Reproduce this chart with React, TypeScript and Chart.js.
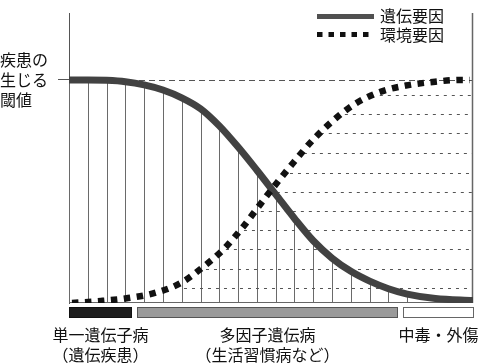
import React, { useEffect, useRef } from "react";
import { Chart, registerables } from "chart.js";

Chart.register(...registerables);

// ---- data (x in units of hatch spacing, y: 0 = baseline, 1 = disease threshold) ----
const geneticLabel = "遺伝要因";
const environmentLabel = "環境要因";
const thresholdLabel = ["疾患の", "生じる", "閾値"];
const thresholdValue = 1;

const geneticX = [0, 1, 2, 3, 4, 5, 6, 7, 8, 9, 10, 11, 12, 13, 14, 15, 16, 17, 18, 19.5, 21.5];
const geneticY = [1.0, 1.0, 0.998, 0.992, 0.978, 0.955, 0.92, 0.871, 0.794, 0.699, 0.595, 0.487, 0.379, 0.279, 0.201, 0.142, 0.098, 0.064, 0.04, 0.02, 0.011];
const hatchMaxX = 18;

const environmentX = [0.16, 1.7, 3.14, 4.57, 5.96, 7.13, 8.24, 9.26, 10.11, 11.06, 11.97, 12.98, 14.1, 15.21, 16.54, 17.93, 19.36, 20.85, 21.33];
const environmentY = [0, 0.009, 0.022, 0.045, 0.09, 0.161, 0.242, 0.341, 0.435, 0.538, 0.632, 0.731, 0.821, 0.892, 0.946, 0.975, 0.991, 1.0, 1.0];

const guideLevels = [0.067, 0.152, 0.242, 0.327, 0.413, 0.498, 0.583, 0.673, 0.762, 0.848, 0.933];
const guideStartX = [6.12, 7.29, 8.35, 9.31, 10.21, 11.06, 11.76, 12.5, 13.4, 14.68, 16.54];

const categoryLine1 = ["単一遺伝子病", "多因子遺伝病", "中毒・外傷"];
const categoryLine2 = ["（遺伝疾患）", "（生活習慣病など）", ""];
const categoryStart = [0, 3.62, 17.77];
const categoryEnd = [3.35, 17.5, 21.54];

const xMax = 21.5;
const yMax = 1.3;

// ---- styles ----
const FONT = "'Noto Sans CJK JP', 'Noto Sans CJK SC', sans-serif";
const geneticColor = "#424242";
const environmentColor = "#111111";
const categoryFill = ["#1e1e1e", "#9a9a9a", "#ffffff"];
const categoryStroke = ["#111111", "#555555", "#666666"];

const decorPlugin = {
  id: "decor",
  beforeDatasetsDraw(chart: any) {
    const { ctx, chartArea: a, scales } = chart;
    const xs = scales.x;
    const ys = scales.y;
    const base = Math.round(ys.getPixelForValue(0)) - 0.5;
    ctx.save();

    // hatch lines under genetic curve
    ctx.strokeStyle = "#6a6a6a";
    ctx.lineWidth = 1;
    ctx.setLineDash([]);
    geneticX.forEach((gx, i) => {
      if (gx > hatchMaxX) return;
      const px = Math.round(xs.getPixelForValue(gx)) + 0.5;
      ctx.beginPath();
      ctx.moveTo(px, base);
      ctx.lineTo(px, ys.getPixelForValue(geneticY[i]));
      ctx.stroke();
    });

    // threshold dashed line
    const ty = Math.round(ys.getPixelForValue(thresholdValue)) + 0.5;
    ctx.strokeStyle = "#555";
    ctx.setLineDash([6, 4]);
    ctx.beginPath();
    ctx.moveTo(a.left, ty);
    ctx.lineTo(a.right, ty);
    ctx.stroke();

    // environment guides
    ctx.setLineDash([3, 5]);
    guideLevels.forEach((lv, i) => {
      const py = Math.round(ys.getPixelForValue(lv)) + 0.5;
      ctx.beginPath();
      ctx.moveTo(xs.getPixelForValue(guideStartX[i]), py);
      ctx.lineTo(a.right, py);
      ctx.stroke();
    });
    ctx.setLineDash([]);

    // baseline
    ctx.strokeStyle = "#666";
    ctx.beginPath();
    ctx.moveTo(a.left, base);
    ctx.lineTo(a.right, base);
    ctx.stroke();

    // right border
    ctx.strokeStyle = "#666";
    ctx.lineWidth = 1.5;
    ctx.beginPath();
    ctx.moveTo(a.right - 0.5, a.top);
    ctx.lineTo(a.right - 0.5, base + 0.5);
    ctx.stroke();
    ctx.restore();
  },
  afterDraw(chart: any) {
    const { ctx, chartArea: a, scales } = chart;
    const xs = scales.x;
    const ys = scales.y;
    const base = ys.getPixelForValue(0);
    ctx.save();

    // category bars + labels
    ctx.font = `16px ${FONT}`;
    ctx.textAlign = "center";
    ctx.textBaseline = "middle";
    categoryLine1.forEach((t, i) => {
      const x0 = Math.round(xs.getPixelForValue(categoryStart[i]));
      const x1 = Math.round(xs.getPixelForValue(categoryEnd[i]));
      ctx.fillStyle = categoryFill[i];
      ctx.strokeStyle = categoryStroke[i];
      ctx.lineWidth = 1;
      ctx.fillRect(x0, base + 4, x1 - x0, 11);
      ctx.strokeRect(x0 + 0.5, base + 4.5, x1 - x0 - 1, 10);
      const cx = (x0 + x1) / 2;
      ctx.fillStyle = "#111";
      ctx.fillText(t, cx, base + 32);
      if (categoryLine2[i]) ctx.fillText(categoryLine2[i], cx, base + 52);
    });

    // legend
    const lx0 = a.right - 156;
    const lx1 = a.right - 99;
    ctx.strokeStyle = "#505050";
    ctx.lineWidth = 5;
    ctx.setLineDash([]);
    ctx.beginPath();
    ctx.moveTo(lx0, 16.5);
    ctx.lineTo(lx1, 16.5);
    ctx.stroke();
    ctx.strokeStyle = environmentColor;
    ctx.setLineDash([5.5, 6]);
    ctx.beginPath();
    ctx.moveTo(lx0, 34.5);
    ctx.lineTo(lx1, 34.5);
    ctx.stroke();
    ctx.setLineDash([]);
    ctx.fillStyle = "#111";
    ctx.textAlign = "left";
    ctx.fillText(geneticLabel, a.right - 93, 16);
    ctx.fillText(environmentLabel, a.right - 93, 35);
    ctx.restore();
  },
};

export default function App() {
  const ref = useRef<HTMLCanvasElement | null>(null);

  useEffect(() => {
    if (!ref.current) return;
    Chart.defaults.font.family = FONT;
    const chart = new Chart(ref.current, {
      type: "line",
      data: {
        datasets: [
          {
            label: environmentLabel,
            data: environmentX.map((x, i) => ({ x, y: environmentY[i] })),
            borderColor: environmentColor,
            borderWidth: 6.5,
            borderDash: [6.5, 6.5],
            borderCapStyle: "butt",
            pointRadius: 0,
            cubicInterpolationMode: "monotone",
            fill: false,
            order: 0,
          },
          {
            label: geneticLabel,
            data: geneticX.map((x, i) => ({ x, y: geneticY[i] })),
            borderColor: geneticColor,
            borderWidth: 7,
            pointRadius: 0,
            cubicInterpolationMode: "monotone",
            fill: false,
            order: 1,
          },
        ],
      },
      options: {
        animation: false,
        responsive: false,
        devicePixelRatio: 1,
        layout: { padding: { left: 0, right: 7, top: 13, bottom: 61 } },
        plugins: { legend: { display: false }, tooltip: { enabled: false } },
        scales: {
          x: { type: "linear", min: 0, max: xMax, display: false },
          y: {
            type: "linear",
            min: 0,
            max: yMax,
            afterBuildTicks: (axis: any) => {
              axis.ticks = [{ value: thresholdValue }];
            },
            afterFit: (axis: any) => {
              axis.width = 69;
              axis.paddingTop = 0;
              axis.paddingBottom = 0;
            },
            ticks: {
              callback: () => thresholdLabel,
              crossAlign: "far",
              color: "#111",
              padding: 0,
              font: { size: 16, lineHeight: 1.25, family: FONT },
            },
            grid: { drawOnChartArea: false, drawTicks: true, tickLength: 11, color: "#555", lineWidth: 1 },
            border: { display: true, color: "#555", width: 1 },
          },
        },
      },
      plugins: [decorPlugin],
    } as any);
    return () => chart.destroy();
  }, []);

  return (
    <div style={{ position: "fixed", left: 0, top: 0, width: 480, height: 364, background: "#fff" }}>
      <canvas ref={ref} width={480} height={364} style={{ display: "block" }} />
    </div>
  );
}
